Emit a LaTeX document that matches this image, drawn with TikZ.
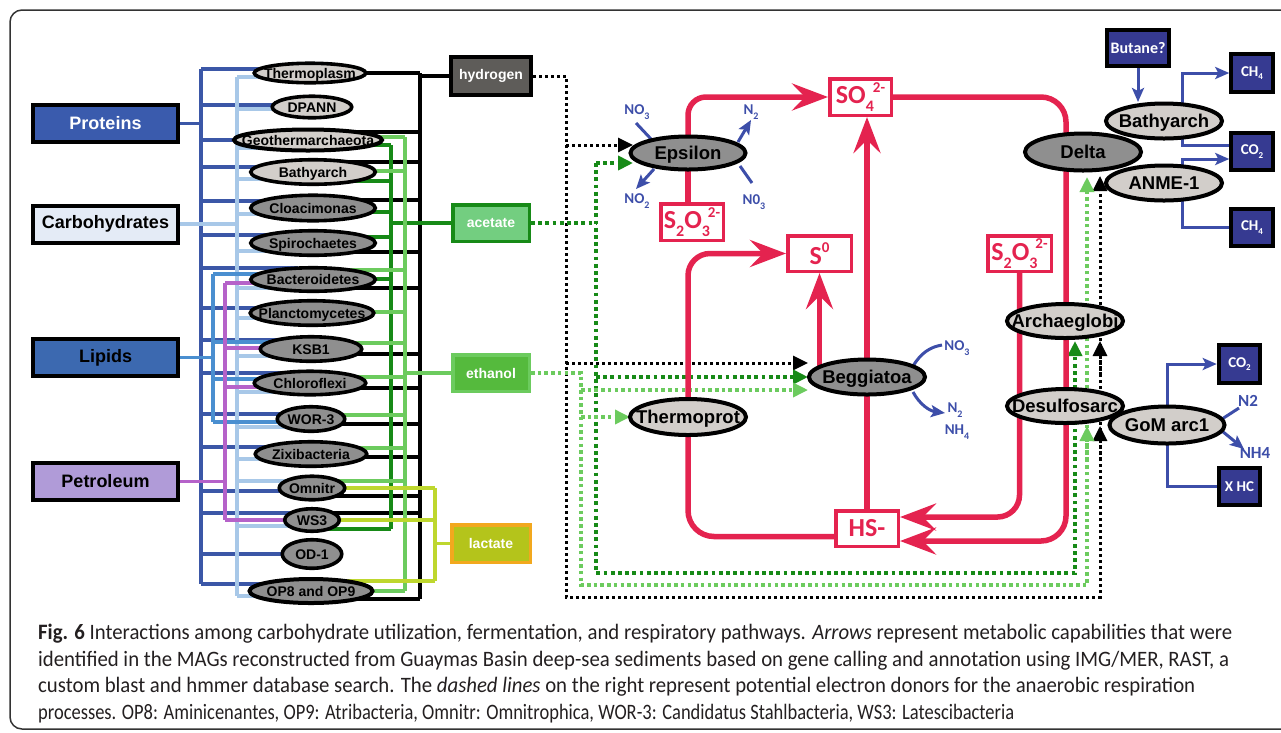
\documentclass[tikz,border=0pt]{standalone}
\usepackage{fontspec}
\usepackage{graphicx}
\setmainfont{Liberation Sans}
\newfontfamily\chemfont{Carlito}
\usetikzlibrary{arrows.meta,calc,shapes.geometric}
\pgfdeclarelayer{bg}
\pgfsetlayers{bg,main}
\definecolor{pblue}{HTML}{3A5BAD}
\definecolor{pline}{HTML}{3B57A7}
\definecolor{cfill}{HTML}{E4EBF6}
\definecolor{cline}{HTML}{A8C8E8}
\definecolor{lfill}{HTML}{3C69B0}
\definecolor{lline}{HTML}{4A8FD0}
\definecolor{petfill}{HTML}{B09BD8}
\definecolor{petline}{HTML}{B562C9}
\definecolor{hfill}{HTML}{5E5C59}
\definecolor{afill}{HTML}{73CE80}
\definecolor{dgreen}{HTML}{178A17}
\definecolor{efill}{HTML}{55BA3D}
\definecolor{lgreen}{HTML}{6CCB5E}
\definecolor{lacfill}{HTML}{B4C41B}
\definecolor{lacborder}{HTML}{F2A81E}
\definecolor{lacline}{HTML}{BED72E}
\definecolor{lgray}{HTML}{D2CECA}
\definecolor{dgray}{HTML}{8F8F8F}
\definecolor{chemred}{HTML}{E4234F}
\definecolor{navy}{HTML}{363A91}
\definecolor{bline}{HTML}{3D4EA9}
\definecolor{capgray}{HTML}{231F20}
\newcommand\ct[1]{\makebox[0pt]{\raisebox{-0.36em}[0pt][0pt]{#1}}}
\newcommand\csub[1]{\raisebox{-0.3em}{\fontsize{16}{16}\selectfont #1}}
\newcommand\csup[1]{\raisebox{0.45em}{\fontsize{15}{15}\selectfont #1}}
\newcommand\nsub[1]{\raisebox{-0.25em}{\fontsize{9}{9}\selectfont #1}}
\newcommand\bsub[1]{\raisebox{-0.3em}{\fontsize{10}{10}\selectfont #1}}
\newdimen\fitw
\newcommand\fitline[2]{\settowidth\fitw{#2}\pgfmathsetmacro\fitr{#1/\fitw}\scalebox{\fitr}[1]{#2}}
\begin{document}
\begin{tikzpicture}[x=1pt,y=-1pt,
 srcbox/.style={draw=black,line width=4pt,inner sep=0pt,minimum width=145pt,minimum height=37pt,font=\bfseries\fontsize{18}{20}\selectfont},
 taxon/.style={ellipse,draw=black,line width=3.6pt,inner sep=0pt,font=\bfseries\fontsize{14}{16}\selectfont},
 bigtaxon/.style={ellipse,draw=black,line width=4pt,inner sep=0pt,minimum width=116pt,minimum height=35pt,font=\bfseries\fontsize{18.5}{20}\selectfont},
 lg/.style={fill=lgray}, dg/.style={fill=dgray},
 subst/.style={line width=3.5pt,inner sep=0pt,minimum width=76.5pt,minimum height=36.5pt,text=white,font=\bfseries\fontsize{14}{16}\selectfont},
 chembox/.style={draw=chemred,line width=3.5pt,fill=white,text=chemred,inner sep=0pt,minimum width=62.5pt,minimum height=35.5pt,font=\chemfont\bfseries\fontsize{26}{28}\selectfont},
 navybox/.style={draw=black,line width=4pt,fill=navy,text=white,inner sep=0pt,minimum width=41.5pt,minimum height=37.5pt,font=\chemfont\bfseries\fontsize{15}{17}\selectfont},
 blab/.style={text=bline,inner sep=0pt,font=\chemfont\bfseries\fontsize{15}{16}\selectfont},
 bus/.style={line width=3.5pt},
 redline/.style={draw=chemred,line width=5.5pt},
 redarr/.style={redline,-{Stealth[length=36pt,width=27pt,inset=13pt]}},
 bl/.style={draw=bline,line width=3pt},
 bluearr/.style={bl,-{Stealth[length=14pt,width=12pt,inset=3pt]}},
 kdot/.style={draw=black,line width=3pt,dash pattern=on 3pt off 3pt},
 gdot/.style={draw=dgreen,line width=3.8pt,dash pattern=on 3.8pt off 3.4pt},
 ldot/.style={draw=lgreen,line width=3.5pt,dash pattern=on 3.5pt off 3.2pt},
 tri/.style={-{Triangle[length=15pt,width=14pt]}},
 captext/.style={anchor=base west,inner sep=0pt,text=capgray,font=\chemfont\fontsize{22}{24}\selectfont}
]
\useasboundingbox (0,0) rectangle (1281,732);
\draw[line width=1.5pt,draw=black!80,rounded corners=12pt] (10,10) rectangle (1330,729);

% source boxes
\node[srcbox,fill=pblue,text=white] (prot) at (105.5,123.5) {Proteins};
\node[srcbox,fill=cfill,text=black] (carb) at (105.5,224) {Carbohydrates};
\node[srcbox,fill=lfill,text=black] (lip) at (105.5,357.5) {Lipids};
\node[srcbox,fill=petfill,text=black] (pet) at (105.5,481.5) {Petroleum};

% left taxa
\node[taxon,lg,minimum width=111.5pt,minimum height=19.5pt] (thermo) at (310,73) {\ct{Thermoplasm}};
\node[taxon,lg,minimum width=79.5pt,minimum height=21.5pt] (dpann) at (312,107) {\ct{DPANN}};
\node[taxon,lg,line width=4pt,minimum width=148pt,minimum height=21pt] (geo) at (308,140) {\ct{Geothermarchaeota}};
\node[taxon,lg,minimum width=124.5pt,minimum height=24.5pt] (bath) at (313,172) {\ct{Bathyarch}};
\node[taxon,dg,minimum width=124.5pt,minimum height=25.5pt] (cloac) at (313,208) {\ct{Cloacimonas}};
\node[taxon,dg,minimum width=124.5pt,minimum height=24.5pt] (spiro) at (313,243) {\ct{Spirochaetes}};
\node[taxon,dg,minimum width=124.5pt,minimum height=23.5pt] (bact) at (313,279.5) {\ct{Bacteroidetes}};
\node[taxon,dg,minimum width=123.5pt,minimum height=24.5pt] (planc) at (312,313) {\ct{Planctomycetes}};
\node[taxon,dg,minimum width=101.5pt,minimum height=24.5pt] (ksb) at (311,349) {\ct{KSB1}};
\node[taxon,dg,minimum width=111.5pt,minimum height=23.5pt] (chlor) at (310,383) {\ct{Chloroflexi}};
\node[taxon,dg,minimum width=67.5pt,minimum height=24.5pt] (wor) at (311,419) {\ct{WOR-3}};
\node[taxon,dg,minimum width=111.5pt,minimum height=24.5pt] (zixi) at (311,454) {\ct{Zixibacteria}};
\node[taxon,dg,minimum width=65.5pt,minimum height=23.5pt] (omni) at (312,488) {\ct{Omnitr}};
\node[taxon,dg,minimum width=54.5pt,minimum height=22.5pt] (ws) at (312,520) {\ct{WS3}};
\node[taxon,dg,minimum width=59.5pt,minimum height=28.5pt] (od) at (312,554) {\ct{OD-1}};
\node[taxon,dg,line width=4pt,minimum width=123pt,minimum height=24pt] (op) at (311,591) {\ct{OP8 and OP9}};

% substrates
\node[subst,draw=black,line width=4pt,fill=hfill,minimum width=80pt,minimum height=38pt] (hyd) at (491,76) {hydrogen};
\node[subst,draw=dgreen,fill=afill] (acet) at (491,223) {acetate};
\node[subst,draw=lgreen,fill=efill] (eth) at (491,373) {ethanol};
\node[subst,draw=lacborder,fill=lacfill,minimum width=78.5pt,minimum height=37.5pt] (lac) at (491,543.5) {lactate};

% chemical boxes
\node[chembox,minimum width=61.5pt,minimum height=36.5pt] (so4) at (860.5,97) {SO\csub{4}\kern-1pt\csup{2-}};
\node[chembox,minimum height=36.5pt] (s2a) at (692,222) {S\csub{2}O\csub{3}\kern-2pt\csup{2-}};
\node[chembox,minimum width=63.5pt] (s2b) at (1019.5,253.5) {S\csub{2}O\csub{3}\kern-2pt\csup{2-}};
\node[chembox,minimum width=63.5pt] (s0) at (819.5,253.5) {S\csup{0}};
\node[chembox] (hs) at (867,528.5) {HS-};

% navy boxes
\node[navybox,minimum width=62pt,minimum height=36pt,font=\chemfont\bfseries\fontsize{16}{18}\selectfont] (but) at (1138,48) {Butane?};
\node[navybox] (ch4a) at (1252,73) {CH\nsub{4}};
\node[navybox] (co2a) at (1252,151.5) {CO\nsub{2}};
\node[navybox] (ch4b) at (1252,227.5) {CH\nsub{4}};
\node[navybox] (co2b) at (1239.5,364) {CO\nsub{2}};
\node[navybox] (xhc) at (1239.5,486.5) {X HC};

% big taxa
\node[bigtaxon,dg,minimum width=115pt,minimum height=33pt] (eps) at (688,153) {\ct{Epsilon}};
\node[bigtaxon,dg] (begg) at (867,377) {\ct{Beggiatoa}};
\node[bigtaxon,lg,minimum height=36pt] (thp) at (688,417) {\ct{Thermoprot}};
\node[bigtaxon,lg] (bath2) at (1164,121) {\ct{Bathyarch}};
\node[bigtaxon,dg,minimum height=37pt] (delta) at (1083,152) {\ct{Delta}};
\node[bigtaxon,lg] (anme) at (1164,183) {\ct{ANME-1}};
\node[bigtaxon,lg,minimum height=34pt] (arch) at (1065,321) {\ct{Archaeglobi}};
\node[bigtaxon,lg,minimum height=34pt] (desul) at (1065,406) {\ct{Desulfosarc}};
\node[bigtaxon,lg,minimum width=115pt,minimum height=37pt] (gom) at (1167,425) {\ct{GoM arc1}};

% blue labels
\node[blab] (eno3) at (637,112) {NO\bsub{3}};
\node[blab] (eno2) at (637,201) {NO\bsub{2}};
\node[blab] (en2) at (751,112) {N\bsub{2}};
\node[blab] (en03) at (754,202) {N0\bsub{3}};
\node[blab] (bno3) at (957,348) {NO\bsub{3}};
\node[blab] (bn2) at (955,410) {N\bsub{2}};
\node[blab] (bnh4) at (957,432) {NH\bsub{4}};
\node[blab,font=\chemfont\bfseries\fontsize{17}{18}\selectfont] (gn2) at (1248,401) {N2};
\node[blab,font=\chemfont\bfseries\fontsize{17}{18}\selectfont] (gnh4) at (1255,453) {NH4};

% caption
\node[captext] (c1) at (38,639) {\fitline{1194}{\textbf{Fig. 6} Interactions among carbohydrate utilization, fermentation, and respiratory pathways. \textit{Arrows} represent metabolic capabilities that were}};
\node[captext] (c2) at (38,666) {\fitline{1191}{identified in the MAGs reconstructed from Guaymas Basin deep-sea sediments based on gene calling and annotation using IMG/MER, RAST, a}};
\node[captext] (c3) at (38,692.5) {\fitline{1157}{custom blast and hmmer database search. The \textit{dashed lines} on the right represent potential electron donors for the anaerobic respiration}};
\node[captext] (c4) at (38,719) {\fitline{976}{processes. OP8: Aminicenantes, OP9: Atribacteria, Omnitr: Omnitrophica, WOR-3: Candidatus Stahlbacteria, WS3: Latescibacteria}};

\begin{pgfonlayer}{bg}
% left buses
\draw[bus,pline] (prot.east) -- (prot.east -| 201,0);
\draw[bus,pline] (201,69) -- (201,584);
\foreach \n/\y in {thermo/69,dpann/105,geo/140,bath/167,cloac/201,spiro/235,bact/268,planc/308,ksb/340,chlor/373,wor/414,zixi/447,omni/491,ws/513,od/554,op/584}
  \draw[bus,pline] (201,\y) -- ($(\n |- 0,\y)+(-15,0)$);
\draw[bus,cline] (carb.east) -- (carb.east -| 237,0);
\draw[bus,cline] (237,77) -- (237,596);
\foreach \n/\y in {thermo/77,dpann/109,geo/148,bath/179,cloac/214,spiro/251,bact/288,planc/318,ksb/356,chlor/392,wor/427,zixi/459,omni/481,ws/526,op/596}
  \draw[bus,cline] (237,\y) -- ($(\n |- 0,\y)+(-15,0)$);
\draw[bus,lline] (lip.east) -- (lip.east -| 213,0);
\draw[bus,lline] (213,274) -- (213,422);
\foreach \n/\y in {bact/274,ksb/342,chlor/379,wor/422}
  \draw[bus,lline] (213,\y) -- ($(\n |- 0,\y)+(-15,0)$);
\draw[bus,petline] (pet.east) -- (pet.east -| 225,0);
\draw[bus,petline] (225,283) -- (225,520);
\foreach \n/\y in {bact/283,ksb/348,chlor/387,ws/520}
  \draw[bus,petline] (225,\y) -- ($(\n |- 0,\y)+(-15,0)$);
% right buses
\draw[bus,black] (hyd.west) -- (hyd.west -| 420,0);
\draw[bus,black] (420,73) -- (420,599);
\foreach \n/\y in {thermo/73,geo/132,bath/162,cloac/200,spiro/252,bact/288,ksb/354,chlor/388,wor/424,zixi/457,omni/496,ws/513,op/599}
  \draw[bus,black] (420,\y) -- ($(\n |- 0,\y)+(15,0)$);
\draw[bus,dgreen] (acet.west) -- (acet.west -| 391,0);
\draw[bus,dgreen] (391,145) -- (391,529);
\foreach \n/\y in {geo/145,bath/181,cloac/212,spiro/237,bact/279,ws/529}
  \draw[bus,dgreen] (391,\y) -- ($(\n |- 0,\y)+(15,0)$);
\draw[bus,lgreen] (eth.west) -- (eth.west -| 405,0);
\draw[bus,lgreen] (405,137) -- (405,591);
\foreach \n/\y in {geo/137,bath/171,bact/270,planc/312,ksb/343,chlor/377,wor/415,zixi/448,omni/481,op/591}
  \draw[bus,lgreen] (405,\y) -- ($(\n |- 0,\y)+(15,0)$);
\draw[bus,lacline] (lac.west) -- (lac.west -| 435,0);
\draw[bus,lacline] (435,488) -- (435,581);
\foreach \n/\y in {omni/488,ws/520,op/581}
  \draw[bus,lacline] (435,\y) -- ($(\n |- 0,\y)+(15,0)$);

% dotted electron donors
\draw[kdot,tri] (hyd.east) -- (566,76) -- (566,597) -- (1100,597) -- (1100,176);
\draw[kdot,tri] (566,145) -- (633,145);
\draw[kdot,tri] (566,363) -- (808,363);
\draw[kdot,tri] (1100,375) -- (1100,341);
\draw[kdot,tri] (1100,460) -- (1100,426);
\draw[gdot] (acet.east) -- (596,223);
\draw[gdot,tri] (596,163) -- (596,573) -- (1075,573) -- (1075,341);
\draw[gdot,tri] (596,163) -- (633,163);
\draw[gdot,tri] (596,377) -- (808,377);
\draw[ldot,tri] (eth.east) -- (581,373) -- (581,585) -- (1087,585) -- (1087,177);
\draw[ldot,tri] (581,390) -- (808,390);
\draw[ldot,tri] (581,417) -- (630,417);
\draw[ldot,tri] (1087,460) -- (1087,426);

% red sulfur cycle
\draw[redarr,rounded corners=18pt] (eps.center) |- (so4.west);
\draw[redline] (eps.center) -- (eps.center |- s2a.north);
\draw[redarr,rounded corners=25pt] (so4.east) -- (1066,97) -- (1066,541) -- ($(hs.east)+(0,12.5)$);
\draw[redarr,rounded corners=22pt] (s2b.south) |- ($(hs.east)+(0,-11.5)$);
\draw[redarr] (hs.north) -- (so4.south -| hs.north);
\draw[redarr] (begg.center -| s0.south) -- (s0.south);
\draw[redarr,rounded corners=22pt] (thp.center) |- (s0.west);
\draw[redline,rounded corners=26pt] (thp.center) |- ($(hs.west)+(0,8)$);

% blue arrows
\draw[bl] (636,123) -- (651,139);
\draw[bluearr] (654,169) -- (636,189);
\draw[bluearr] (738,142) -- (751,120);
\draw[bl] (740,166) -- (752,183);
\draw[bl] (913,366) .. controls (921,353) and (930,347) .. (942,345);
\draw[bluearr] (913,392) .. controls (920,405) and (930,411) .. (945,413);
\draw[bluearr] (but.south) -- (but.south |- 0,102);
\draw[bluearr] (1182,121) |- (ch4a.west);
\draw[bl] (1182,121) |- (co2a.west |- 0,145);
\draw[bluearr] (1182,183) |- (co2a.west |- 0,159);
\draw[bl] (1182,183) |- (ch4b.west);
\draw[bluearr] (gom.center) |- (co2b.west);
\draw[bl] (gom.center) |- (xhc.west);
\draw[bl] (1222,419) -- (1239,408);
\draw[bluearr] (1222,431) -- (1244,449);
\end{pgfonlayer}
\end{tikzpicture}
\end{document}
